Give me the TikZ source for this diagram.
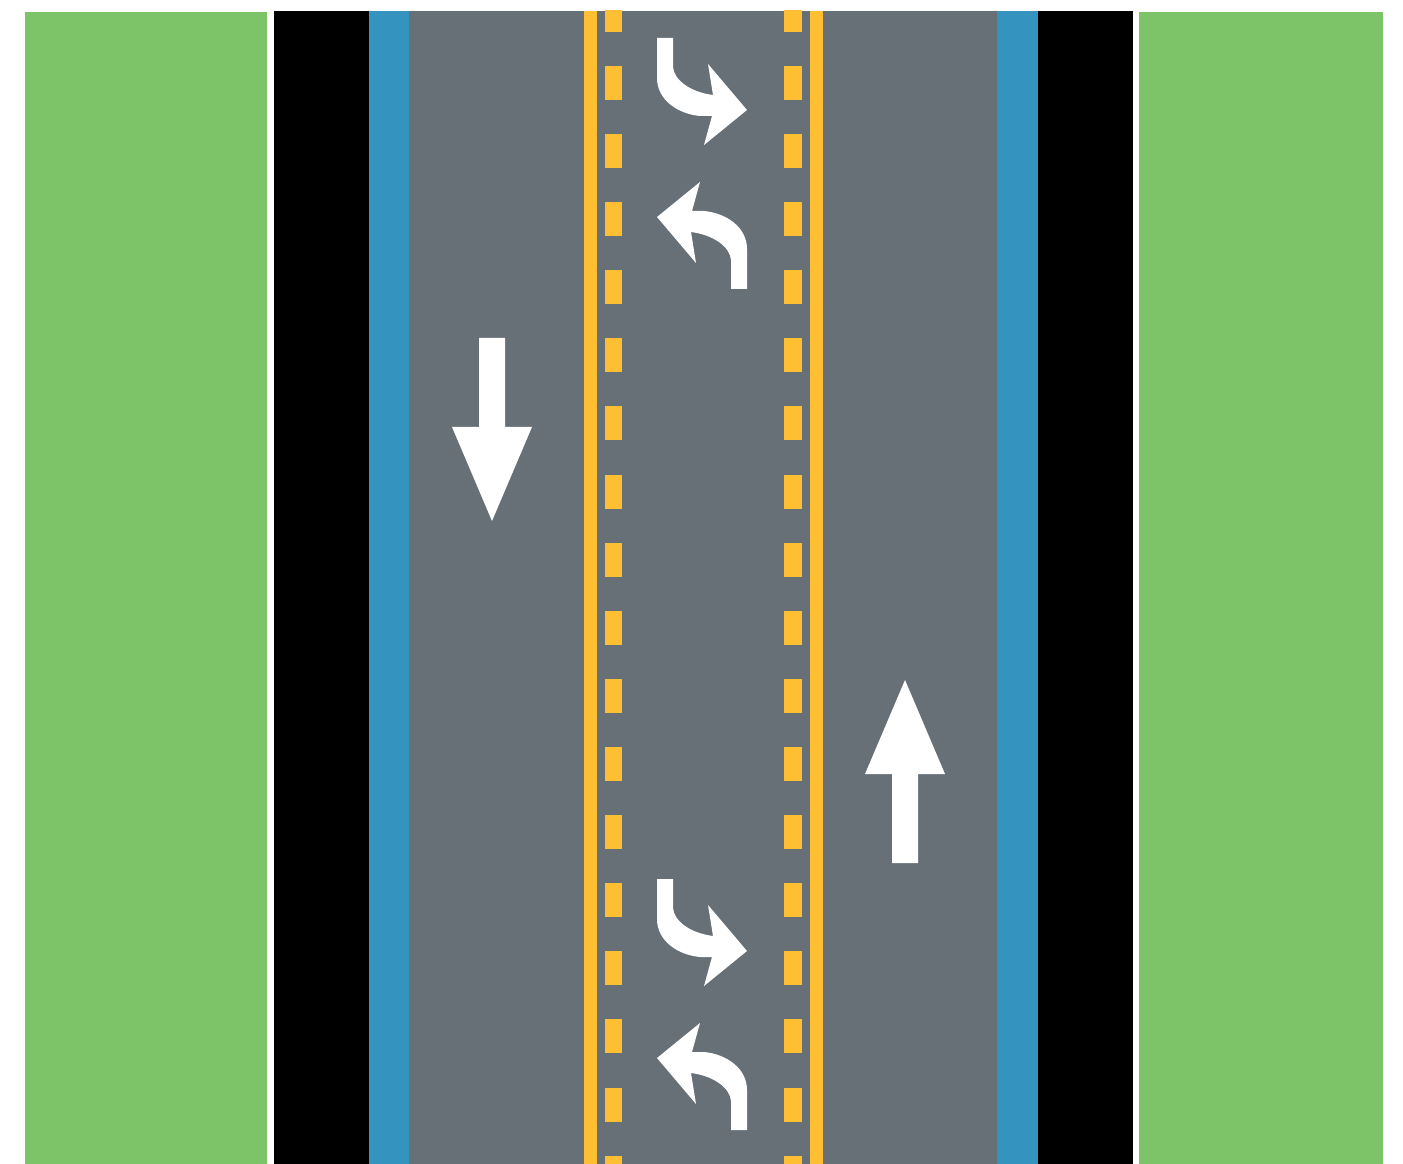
\documentclass[tikz,border=0pt]{standalone}
\usepackage{tikz}
\definecolor{VergeGreen}{RGB}{125,195,103}
\definecolor{BikeBlue}{RGB}{52,148,191}
\definecolor{RoadGray}{RGB}{103,111,119}
\definecolor{LineYellow}{RGB}{255,191,51}
\newcommand{\TurnArrow}{%
  (657,38) -- (673,38) -- (673,67) .. controls (674,80) and (690,92) .. (713,95)
  -- (708,64) -- (747,110) -- (704,145) -- (712,116) -- (700,116)
  .. controls (678,114) and (657,100) .. (657,78) -- cycle}

\begin{document}
\begin{tikzpicture}[x=0.01cm,y=-0.01cm]
  \useasboundingbox (0,0) rectangle (1403,1164);
  \fill[VergeGreen] (25,12) rectangle (267,1164);
  \fill[VergeGreen] (1139,12) rectangle (1383,1164);
  \fill[black] (274,11) rectangle (1133,1164);
  \fill[BikeBlue] (369,11) rectangle (1038,1164);
  \fill[RoadGray] (409,11) rectangle (997,1164);
  \fill[LineYellow] (584,11) rectangle (597,1164);
  \fill[LineYellow] (810,11) rectangle (823,1164);
  \begin{scope}
    \clip (409,11) rectangle (997,1164);
    \foreach \i in {-1,...,16} {
      \fill[LineYellow] (605,{66+68.1*\i}) rectangle (622,{100+68.1*\i});
      \fill[LineYellow] (784,{66+68.1*\i}) rectangle (802,{100+68.1*\i});
    }
  \end{scope}
  % turn arrows
  \foreach \dy in {0,841} {
    \begin{scope}[shift={(0,\dy)}]
      \fill[white] \TurnArrow;
      \fill[white, rotate around={180:(702,163.5)}] \TurnArrow;
    \end{scope}
  }
  % through arrows
  \fill[white] (479,338) -- (505,338) -- (505,427) -- (532,427) -- (492,521) -- (452,427) -- (479,427) -- cycle;
  \fill[white] (892,863) -- (918,863) -- (918,774) -- (945,774) -- (905,680) -- (865,774) -- (892,774) -- cycle;
\end{tikzpicture}
\end{document}
